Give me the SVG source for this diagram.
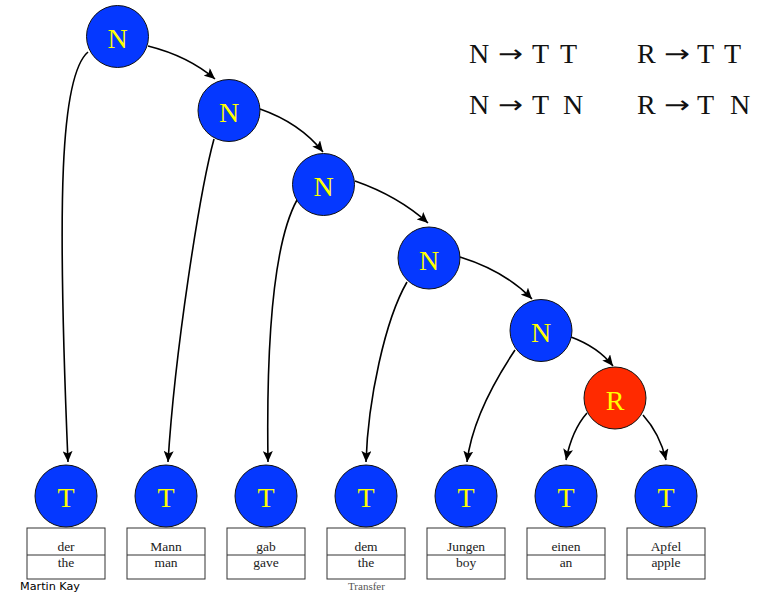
<svg xmlns="http://www.w3.org/2000/svg" width="765" height="597" viewBox="0 0 765 597">
<style>
.bn{fill:#0538FF;stroke:#111;stroke-width:1}
.rn{fill:#FF2A00;stroke:#111;stroke-width:1}
.lb{font-family:"Liberation Serif","Times New Roman",serif;font-size:28px;fill:#FFFF00;text-anchor:middle}
.bx{fill:#fff;stroke:#333;stroke-width:1}
.wd{font-family:"Liberation Serif","Times New Roman",serif;font-size:13.5px;fill:#222;text-anchor:middle}
.rule{font-family:"Liberation Serif","Times New Roman",serif;font-size:28px;fill:#111}
.ar{font-family:"DejaVu Sans",sans-serif;font-size:24px}
.e{fill:none;stroke:#000;stroke-width:1.6;marker-end:url(#ah)}
</style>
<defs>
<marker id="ah" markerWidth="12" markerHeight="10" refX="11" refY="5" orient="auto" markerUnits="userSpaceOnUse">
<path d="M0,0 L11,5 L0,10 L2.5,5 Z" fill="#000"/>
</marker>
</defs>
<rect width="765" height="597" fill="#fff"/>

<g id="rules" class="rule">
<text y="63"><tspan x="469">N</tspan><tspan class="ar" x="498" y="62" textLength="25" lengthAdjust="spacingAndGlyphs">→</tspan><tspan x="532" y="63">T</tspan><tspan x="560">T</tspan></text>
<text y="114"><tspan x="469">N</tspan><tspan class="ar" x="498" y="113" textLength="25" lengthAdjust="spacingAndGlyphs">→</tspan><tspan x="532" y="114">T</tspan><tspan x="563">N</tspan></text>
<text y="63"><tspan x="637">R</tspan><tspan class="ar" x="664" y="62" textLength="26" lengthAdjust="spacingAndGlyphs">→</tspan><tspan x="697" y="63">T</tspan><tspan x="724">T</tspan></text>
<text y="114"><tspan x="637">R</tspan><tspan class="ar" x="664" y="113" textLength="26" lengthAdjust="spacingAndGlyphs">→</tspan><tspan x="697" y="114">T</tspan><tspan x="730">N</tspan></text>
</g>

<g id="connectors">
<path class="e" d="M148,46 Q188,56 215,79"/>
<path class="e" d="M260,109 Q300,123 323,152"/>
<path class="e" d="M355,181 Q398,196 428,223"/>
<path class="e" d="M460,257 Q505,271 532,299"/>
<path class="e" d="M571,337 Q598,347 613,366"/>
<path class="e" d="M587,413 Q572,430 566,460"/>
<path class="e" d="M643,415 Q660,434 666,460"/>
<path class="e" d="M88,52 C60,76 57,200 68,462"/>
<path class="e" d="M214,139 C200,190 175,350 168,462"/>
<path class="e" d="M297,200 C275,240 266,330 268,462"/>
<path class="e" d="M407,282 C385,320 368,400 366,462"/>
<path class="e" d="M515,350 C495,380 472,420 467,462"/>
</g>

<g id="n1"><circle class="bn" cx="117.5" cy="36.5" r="31"/><text class="lb" x="117.5" y="48">N</text></g>
<g id="n2"><circle class="bn" cx="229" cy="110.5" r="31"/><text class="lb" x="229" y="122">N</text></g>
<g id="n3"><circle class="bn" cx="323.5" cy="184.5" r="31"/><text class="lb" x="323.5" y="196">N</text></g>
<g id="n4"><circle class="bn" cx="429" cy="258" r="31"/><text class="lb" x="429" y="269.5">N</text></g>
<g id="n5"><circle class="bn" cx="541" cy="330.5" r="31"/><text class="lb" x="541" y="342">N</text></g>
<g id="r"><circle class="rn" cx="615" cy="398" r="31"/><text class="lb" x="615" y="409.5">R</text></g>

<g id="t1"><circle class="bn" cx="66" cy="496" r="31"/><text class="lb" x="66" y="507">T</text><rect class="bx" x="27" y="528" width="78" height="51"/><line x1="27" y1="555" x2="105" y2="555" stroke="#333"/><text class="wd" x="66" y="551">der</text><text class="wd" x="66" y="567">the</text></g>
<g id="t2"><circle class="bn" cx="166" cy="496" r="31"/><text class="lb" x="166" y="507">T</text><rect class="bx" x="127" y="528" width="78" height="51"/><line x1="127" y1="555" x2="205" y2="555" stroke="#333"/><text class="wd" x="166" y="551">Mann</text><text class="wd" x="166" y="567">man</text></g>
<g id="t3"><circle class="bn" cx="266" cy="496" r="31"/><text class="lb" x="266" y="507">T</text><rect class="bx" x="227" y="528" width="78" height="51"/><line x1="227" y1="555" x2="305" y2="555" stroke="#333"/><text class="wd" x="266" y="551">gab</text><text class="wd" x="266" y="567">gave</text></g>
<g id="t4"><circle class="bn" cx="366" cy="496" r="31"/><text class="lb" x="366" y="507">T</text><rect class="bx" x="327" y="528" width="78" height="51"/><line x1="327" y1="555" x2="405" y2="555" stroke="#333"/><text class="wd" x="366" y="551">dem</text><text class="wd" x="366" y="567">the</text></g>
<g id="t5"><circle class="bn" cx="466" cy="496" r="31"/><text class="lb" x="466" y="507">T</text><rect class="bx" x="427" y="528" width="78" height="51"/><line x1="427" y1="555" x2="505" y2="555" stroke="#333"/><text class="wd" x="466" y="551">Jungen</text><text class="wd" x="466" y="567">boy</text></g>
<g id="t6"><circle class="bn" cx="566" cy="496" r="31"/><text class="lb" x="566" y="507">T</text><rect class="bx" x="527" y="528" width="78" height="51"/><line x1="527" y1="555" x2="605" y2="555" stroke="#333"/><text class="wd" x="566" y="551">einen</text><text class="wd" x="566" y="567">an</text></g>
<g id="t7"><circle class="bn" cx="666" cy="496" r="31"/><text class="lb" x="666" y="507">T</text><rect class="bx" x="627" y="528" width="78" height="51"/><line x1="627" y1="555" x2="705" y2="555" stroke="#333"/><text class="wd" x="666" y="551">Apfel</text><text class="wd" x="666" y="567">apple</text></g>

<text x="20" y="590" font-family="'DejaVu Sans',sans-serif" font-size="10.5" fill="#000" textLength="60" lengthAdjust="spacingAndGlyphs">Martin Kay</text>
<text x="348" y="590" font-family="'Liberation Serif',serif" font-size="11" fill="#555">Transfer</text>
</svg>
